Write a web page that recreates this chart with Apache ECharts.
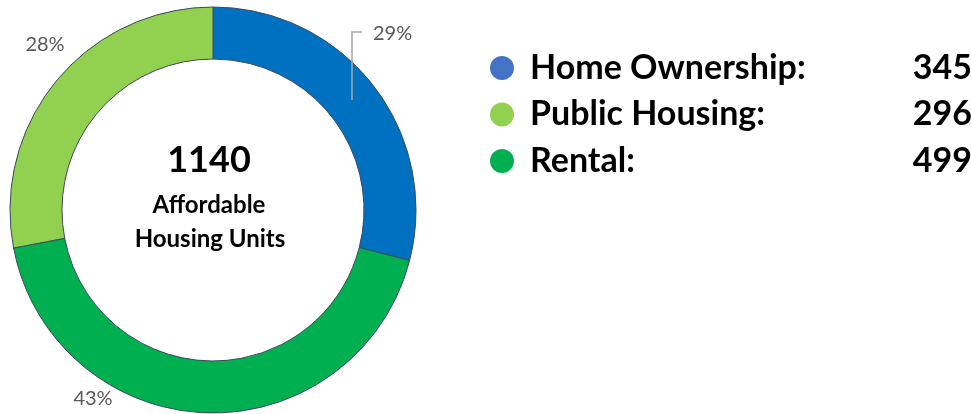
<!DOCTYPE html>
<html>
<head>
<meta charset="utf-8">
<script src="https://cdn.jsdelivr.net/npm/echarts@6/dist/echarts.min.js"></script>
<style>
html,body{margin:0;padding:0;background:#fff;}
#chart{width:971px;height:414px;}
</style>
</head>
<body>
<div id="chart"></div>
<script>
// Ring order (clockwise from top) and shares shown on the ring (%)
const ringCategories = ['Home Ownership', 'Rental', 'Public Housing'];
const ringShares = [29, 43, 28];
const ringColors = ['#0070C0', '#00B050', '#92D050'];

// Legend (listed order) and unit counts
const legendCategories = ['Home Ownership', 'Public Housing', 'Rental'];
const legendUnits = [345, 296, 499];
const legendColors = ['#4472C4', '#92D050', '#00B050'];

const centerLine2 = 'Affordable';
const centerLine3 = 'Housing Units';

const totalUnits = legendUnits.reduce((a, b) => a + b, 0);

const chart = echarts.init(document.getElementById('chart'), null, {renderer: 'canvas'});

const FONT = 'Lato, "Open Sans", sans-serif';

const option = {
  backgroundColor: '#ffffff',
  animation: false,
  legend: {
    orient: 'vertical',
    left: 485,
    top: 46,
    icon: 'circle',
    itemWidth: 24,
    itemHeight: 24,
    itemGap: 12.5,
    selectedMode: false,
    data: legendCategories.map((n, i) => ({
      name: n,
      itemStyle: {color: legendColors[i], borderWidth: 0}
    })),
    formatter: function (name) {
      const i = legendCategories.indexOf(name);
      return '{n|' + name + ':}{v|' + legendUnits[i] + '}';
    },
    textStyle: {
      rich: {
        n: {fontFamily: FONT, fontWeight: 'bold', fontSize: 34, color: '#000', width: 312, padding: [0, 0, 0, 11], lineHeight: 34},
        v: {fontFamily: FONT, fontWeight: 'bold', fontSize: 34, color: '#000', width: 130, align: 'right', lineHeight: 34}
      }
    }
  },
  series: [{
    type: 'pie',
    center: [213, 210],
    radius: [151, 203],
    startAngle: 90,
    clockwise: true,
    avoidLabelOverlap: false,
    itemStyle: {borderColor: '#3E4A5E', borderWidth: 1},
    emphasis: {disabled: true},
    label: {
      show: true,
      position: 'outside',
      formatter: '{c}%',
      fontFamily: FONT,
      fontSize: 20,
      color: '#595959'
    },
    labelLine: {show: false},
    labelLayout: function (p) {
      if (p.dataIndex === 0) {
        return {x: 373, y: 34, align: 'left', verticalAlign: 'middle'};
      } else if (p.dataIndex === 1) {
        return {x: 93, y: 399, align: 'center', verticalAlign: 'middle'};
      } else {
        return {x: 45, y: 45, align: 'center', verticalAlign: 'middle'};
      }
    },
    data: ringCategories.map((n, i) => ({
      name: n,
      value: ringShares[i],
      itemStyle: {color: ringColors[i]}
    }))
  }]
};

option.graphic = [
  {type: 'polyline', z: 100, shape: {points: [[352, 100], [352, 32], [362, 32]]}, style: {stroke: '#A6A6A6', lineWidth: 1.5, fill: null}},
  {type: 'text', z: 100, x: 209, y: 160, style: {text: String(totalUnits), fontFamily: FONT, fontWeight: 'bold', fontSize: 36, fill: '#000', align: 'center', verticalAlign: 'middle'}},
  {type: 'text', z: 100, x: 209, y: 205, style: {text: centerLine2, fontFamily: FONT, fontWeight: 'bold', fontSize: 24, fill: '#000', align: 'center', verticalAlign: 'middle'}},
  {type: 'text', z: 100, x: 210, y: 239, style: {text: centerLine3, fontFamily: FONT, fontWeight: 'bold', fontSize: 24, fill: '#000', align: 'center', verticalAlign: 'middle'}}
];

chart.setOption(option);
</script>
</body>
</html>
